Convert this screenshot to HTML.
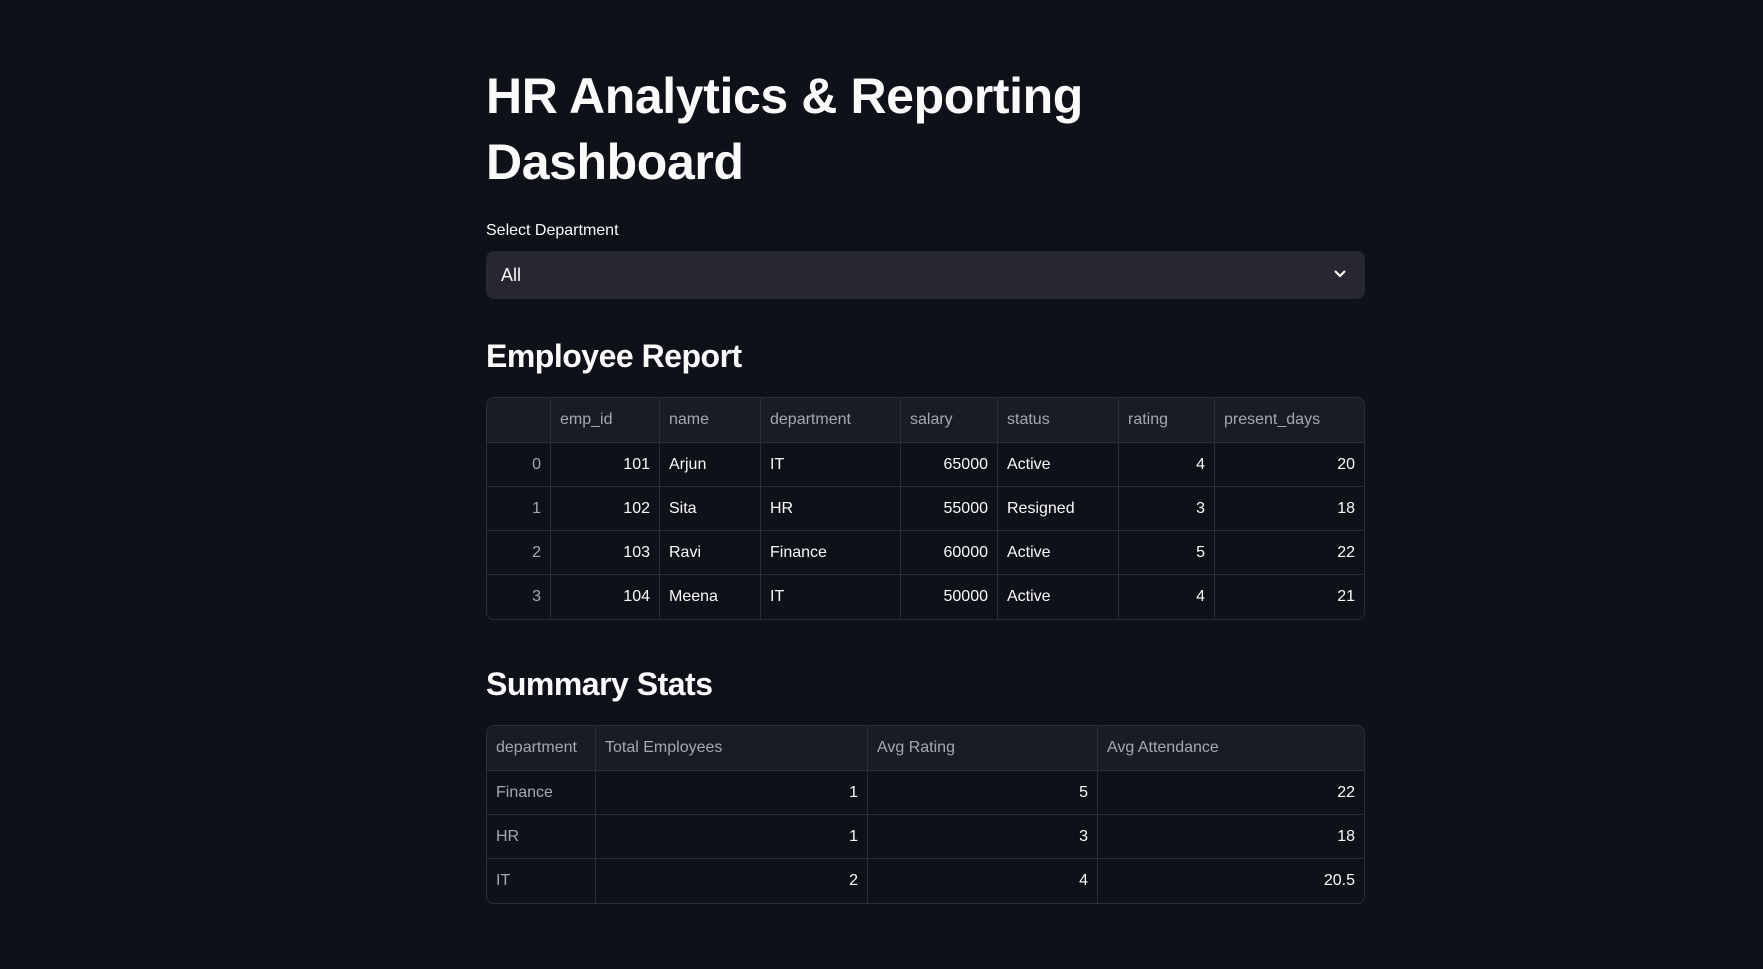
<!DOCTYPE html>
<html><head><meta charset="utf-8"><style>
*{box-sizing:border-box;margin:0;padding:0}
body{width:1763px;height:969px;background:#0e1117;color:#fafafa;font-family:"Liberation Sans",sans-serif;position:relative;overflow:hidden}
.abs{position:absolute}
h1{position:absolute;left:486px;top:63px;font-size:50px;line-height:66px;font-weight:bold;letter-spacing:-0.4px;color:#fafafa}
h2{position:absolute;left:486px;font-size:32px;font-weight:bold;letter-spacing:-0.5px;line-height:40px}
.lbl{left:486px;top:222px;font-size:16px}
.sel{left:486px;top:251px;width:879px;height:48px;background:#262730;border-radius:8px}
.sel span{position:absolute;left:15px;top:14px;font-size:18px}
table{position:absolute;left:486px;width:879px;border-collapse:separate;border-spacing:0;border:1px solid #2b2e38;border-radius:8px;overflow:hidden;font-size:16px;table-layout:fixed}
td,th{border-right:1px solid #2b2e38;border-bottom:1px solid #2b2e38;padding:0 9px;height:44px;font-weight:normal;white-space:nowrap}
tr:last-child td{border-bottom:none}
td:last-child,th:last-child{border-right:none}
th{background:#1a1c24;color:#a3a8b4;text-align:left;height:45px}
td.n{text-align:right}
td.i{color:#a3a8b4;text-align:right}
td.g{color:#a3a8b4}
</style></head><body>
<h1>HR Analytics &amp; Reporting<br>Dashboard</h1>
<div class="abs lbl">Select Department</div>
<div class="abs sel"><span>All</span>
<svg class="abs" style="left:847px;top:18px" width="14" height="10" viewBox="0 0 14 10"><path d="M2 2l5 5 5-5" stroke="#fafafa" stroke-width="2.2" fill="none"/></svg></div>
<h2 style="top:336px">Employee Report</h2>
<table style="top:397px">
<colgroup><col style="width:64px"><col style="width:109px"><col style="width:101px"><col style="width:140px"><col style="width:97px"><col style="width:121px"><col style="width:96px"><col></colgroup>
<tr><th></th><th>emp_id</th><th>name</th><th>department</th><th>salary</th><th>status</th><th>rating</th><th>present_days</th></tr>
<tr><td class="i">0</td><td class="n">101</td><td>Arjun</td><td>IT</td><td class="n">65000</td><td>Active</td><td class="n">4</td><td class="n">20</td></tr>
<tr><td class="i">1</td><td class="n">102</td><td>Sita</td><td>HR</td><td class="n">55000</td><td>Resigned</td><td class="n">3</td><td class="n">18</td></tr>
<tr><td class="i">2</td><td class="n">103</td><td>Ravi</td><td>Finance</td><td class="n">60000</td><td>Active</td><td class="n">5</td><td class="n">22</td></tr>
<tr><td class="i">3</td><td class="n">104</td><td>Meena</td><td>IT</td><td class="n">50000</td><td>Active</td><td class="n">4</td><td class="n">21</td></tr>
</table>
<h2 style="top:664px">Summary Stats</h2>
<table style="top:725px">
<colgroup><col style="width:109px"><col style="width:272px"><col style="width:230px"><col></colgroup>
<tr><th>department</th><th>Total Employees</th><th>Avg Rating</th><th>Avg Attendance</th></tr>
<tr><td class="g">Finance</td><td class="n">1</td><td class="n">5</td><td class="n">22</td></tr>
<tr><td class="g">HR</td><td class="n">1</td><td class="n">3</td><td class="n">18</td></tr>
<tr><td class="g">IT</td><td class="n">2</td><td class="n">4</td><td class="n">20.5</td></tr>
</table>
</body></html>
